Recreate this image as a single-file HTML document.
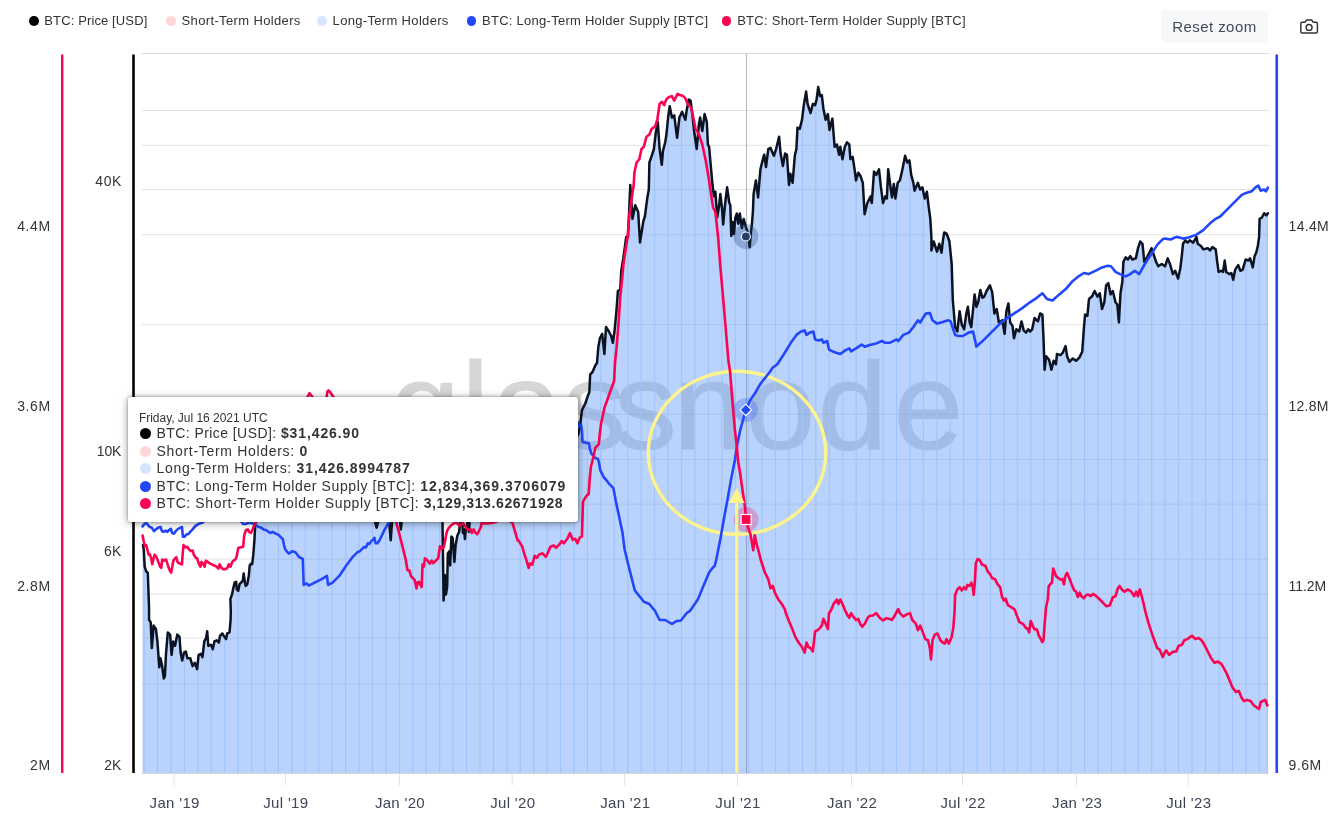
<!DOCTYPE html><html><head><meta charset="utf-8"><title>BTC Long/Short-Term Holder Supply</title>
<style>
html,body{margin:0;padding:0;background:#fff}
body{width:1335px;height:831px;position:relative;overflow:hidden;font-family:"Liberation Sans",Arial,sans-serif;color:#333}
.lg{position:absolute;top:13.2px;height:16px;line-height:16px;font-size:13px;color:#333;white-space:nowrap}
.dot{position:absolute;border-radius:50%;}
.btn{position:absolute;left:1161px;top:10.4px;width:106.5px;height:33px;background:#f7f8fa;border-radius:5px;font-size:15px;line-height:33px;color:#434959;white-space:nowrap}
.btn span{position:absolute;left:11.3px;top:-0.6px}
.tip{position:absolute;left:128px;top:397px;width:449.5px;height:125px;background:#fff;border-radius:3px;box-shadow:0 0 3px rgba(0,0,0,.32),0 1px 8px rgba(0,0,0,.38);}
.tip .hd{position:absolute;left:10.9px;top:13.7px;font-size:12px;letter-spacing:-0.02px;line-height:14px;color:#333;white-space:nowrap}
.tip .row{position:absolute;left:28.5px;font-size:14px;line-height:17px;color:#333;white-space:pre}
.tip .row b{font-weight:bold;color:#333}
.tip .dot{width:11px;height:11px;left:11.8px}

</style></head><body>
<svg width="1335" height="831" viewBox="0 0 1335 831" style="position:absolute;left:0;top:0">
<defs>
<clipPath id="cf"><path d="M142.5 773.0 L142.5 545.1 L143.0 545.1 L143.8 549.9 L144.7 566.7 L146.2 571.5 L147.8 572.7 L148.3 587.2 L149.0 606.4 L149.1 620.0 L150.7 622.2 L151.8 648.1 L153.6 625.6 L155.9 629.0 L157.5 642.5 L159.3 667.3 L160.4 658.3 L162.0 665.0 L163.8 678.5 L164.9 676.3 L166.0 653.8 L167.8 632.4 L170.1 634.6 L171.6 654.9 L173.2 641.4 L175.0 645.9 L177.3 634.6 L179.5 636.9 L180.6 652.6 L182.2 660.5 L184.0 652.6 L185.8 651.5 L187.4 658.3 L190.3 658.3 L192.6 666.1 L194.8 662.8 L197.1 669.1 L198.6 654.9 L200.9 653.8 L202.5 657.1 L204.3 641.4 L206.1 638.0 L207.2 631.3 L208.3 645.9 L211.0 644.8 L212.8 649.3 L214.4 641.4 L216.7 640.3 L218.9 642.5 L220.0 635.8 L222.3 633.5 L224.5 636.9 L226.1 639.1 L227.2 633.5 L229.5 632.4 L230.6 620.0 L230.8 611.0 L230.4 599.2 L232.0 594.4 L233.5 587.2 L234.7 582.4 L236.1 581.8 L236.8 589.6 L238.3 590.8 L239.5 584.2 L241.3 582.4 L242.8 580.6 L243.7 573.4 L244.9 582.4 L245.7 586.0 L247.3 584.2 L248.9 575.1 L249.7 565.5 L250.9 563.7 L252.1 564.3 L253.3 554.7 L254.5 539.1 L255.1 527.0 L255.7 522.8 L258.0 505.0 L262.0 490.0 L268.0 470.0 L275.0 455.0 L282.0 430.0 L286.0 440.0 L290.0 425.0 L296.0 445.0 L302.0 455.0 L310.0 450.0 L318.0 462.0 L326.0 455.0 L334.0 470.0 L340.0 465.0 L347.0 490.0 L352.0 498.0 L358.0 492.0 L364.0 505.0 L370.0 512.0 L375.0 521.6 L376.6 527.6 L378.1 521.6 L384.1 518.6 L389.2 521.6 L390.7 540.3 L392.1 521.6 L396.1 517.4 L400.1 521.6 L400.9 529.4 L401.7 521.6 L405.7 515.0 L410.5 503.0 L416.5 484.9 L422.6 475.3 L427.4 478.9 L432.2 475.3 L437.0 484.9 L440.6 503.0 L442.5 521.6 L443.6 600.4 L444.8 575.1 L446.0 594.4 L447.2 586.0 L447.8 553.5 L449.6 551.1 L450.2 565.5 L451.4 536.6 L452.6 537.9 L454.4 561.9 L455.6 545.1 L457.4 535.5 L459.2 531.8 L460.1 521.6 L462.3 521.6 L462.9 533.0 L464.1 529.4 L464.9 539.1 L465.9 528.2 L467.7 521.6 L468.9 531.8 L469.7 521.6 L475.0 510.0 L485.0 495.0 L495.0 480.0 L505.0 470.0 L515.0 472.0 L525.0 465.0 L535.0 470.0 L545.0 455.0 L555.0 462.0 L565.0 450.0 L572.0 445.0 L578.5 433.9 L580.3 424.0 L581.9 410.3 L585.3 403.5 L587.5 396.8 L589.3 392.3 L590.2 374.3 L592.5 372.0 L595.4 365.3 L597.0 363.0 L598.3 347.3 L599.9 338.3 L602.2 333.8 L604.4 354.0 L606.0 327.0 L608.9 331.5 L611.2 336.0 L612.8 342.8 L614.5 331.5 L616.4 311.3 L617.9 291.0 L620.2 289.9 L621.3 270.8 L623.1 259.5 L624.7 248.2 L626.2 237.0 L628.0 237.0 L630.3 185.0 L632.5 218.8 L635.2 205.3 L638.2 212.0 L640.0 242.4 L643.4 221.0 L644.9 216.5 L647.2 198.5 L648.8 189.5 L649.4 162.5 L651.7 155.8 L653.9 149.0 L655.7 133.3 L657.8 122.0 L659.6 149.0 L661.8 164.8 L662.9 151.3 L665.2 142.3 L666.3 135.5 L668.1 117.5 L669.7 106.3 L671.9 117.5 L674.2 115.3 L677.1 137.8 L679.4 117.5 L682.1 111.9 L685.4 119.8 L686.6 110.8 L688.8 99.5 L690.6 100.6 L692.2 113.0 L694.4 133.3 L696.7 149.0 L698.9 124.3 L700.1 117.5 L702.3 131.0 L704.6 114.1 L706.8 122.0 L707.9 144.5 L709.1 146.8 L710.9 167.0 L712.5 185.0 L714.0 196.3 L715.4 191.8 L717.2 217.2 L719.2 205.0 L720.3 194.0 L722.0 208.0 L723.2 224.4 L725.0 205.0 L727.1 187.3 L729.3 203.0 L730.3 205.0 L731.3 235.9 L732.5 222.0 L733.4 233.5 L734.0 234.0 L735.3 217.8 L736.8 213.6 L738.3 223.8 L739.8 213.6 L741.9 228.0 L743.7 219.0 L746.1 228.0 L747.3 230.5 L748.8 238.9 L749.7 247.3 L750.9 232.9 L752.1 222.0 L753.0 210.0 L753.6 194.0 L755.9 180.5 L758.1 197.4 L760.4 169.3 L762.6 160.3 L764.2 154.7 L766.0 167.0 L768.3 149.0 L770.5 147.9 L773.9 155.8 L776.1 149.0 L779.1 136.7 L780.6 153.5 L782.9 165.9 L785.1 153.5 L786.9 154.7 L789.0 185.0 L790.3 173.8 L792.6 182.8 L794.8 155.8 L796.4 149.0 L797.5 127.6 L799.8 128.8 L802.0 119.8 L803.8 105.1 L806.1 91.6 L807.6 104.0 L810.6 113.0 L812.8 104.0 L815.1 105.1 L816.6 99.5 L818.2 87.1 L820.0 96.1 L821.8 95.0 L823.4 108.5 L825.6 119.8 L827.9 114.1 L829.5 129.9 L832.4 118.6 L834.6 146.8 L836.9 144.5 L839.1 154.7 L840.3 146.8 L842.5 159.2 L844.8 146.8 L847.0 142.3 L849.3 144.5 L850.4 159.2 L852.7 156.9 L854.9 171.5 L856.0 180.5 L858.3 172.7 L860.5 176.0 L862.8 182.8 L864.6 214.3 L867.3 203.0 L870.7 196.3 L871.8 203.0 L874.0 171.5 L876.3 174.9 L879.0 169.3 L880.8 186.2 L883.0 203.0 L885.3 196.3 L886.9 198.5 L888.2 169.3 L890.2 185.0 L892.0 197.4 L893.8 183.9 L895.4 198.5 L897.7 182.8 L899.9 180.5 L902.2 170.4 L905.1 155.8 L907.3 162.5 L909.4 160.3 L911.2 174.9 L913.4 182.8 L914.5 190.7 L917.9 182.8 L920.2 189.5 L922.4 187.3 L924.7 198.5 L926.9 191.8 L928.5 205.3 L930.3 218.8 L931.4 237.0 L931.4 250.5 L933.7 241.5 L937.0 251.6 L939.3 243.8 L941.5 252.8 L943.1 239.2 L944.2 232.5 L946.5 233.6 L947.9 237.0 L949.4 241.5 L951.7 264.0 L952.8 300.0 L955.1 327.0 L957.3 331.5 L959.6 311.3 L961.8 324.8 L964.1 329.3 L966.3 313.5 L967.9 306.8 L969.7 322.5 L971.3 327.0 L973.1 309.0 L974.6 294.4 L976.4 306.8 L978.2 302.3 L980.3 289.9 L982.5 297.8 L984.3 296.6 L986.6 291.0 L989.9 285.4 L992.2 292.1 L994.4 313.5 L996.7 309.0 L998.9 322.5 L1002.3 320.3 L1004.6 333.8 L1006.4 311.3 L1008.4 303.4 L1010.2 322.5 L1012.5 325.9 L1014.0 338.3 L1016.3 329.3 L1019.2 331.5 L1021.5 321.4 L1023.7 330.4 L1026.0 332.6 L1028.2 329.3 L1030.0 331.5 L1032.2 329.3 L1034.5 318.0 L1037.9 321.4 L1040.1 313.5 L1042.4 314.6 L1043.5 338.3 L1044.6 369.8 L1046.2 356.3 L1049.1 359.7 L1051.4 369.8 L1053.6 360.8 L1055.9 364.2 L1057.0 354.0 L1060.4 355.1 L1062.6 352.9 L1065.6 346.1 L1067.1 356.3 L1069.4 361.9 L1072.8 358.5 L1076.1 360.8 L1079.5 357.4 L1082.2 351.8 L1084.0 327.0 L1085.1 314.6 L1087.4 315.8 L1089.0 298.9 L1091.9 296.6 L1094.6 291.0 L1097.5 296.6 L1099.8 293.3 L1102.0 309.0 L1104.3 302.3 L1106.1 285.4 L1108.3 283.1 L1110.6 294.4 L1112.8 291.0 L1115.5 302.3 L1117.3 304.5 L1118.9 322.5 L1120.5 293.3 L1122.3 282.0 L1123.4 261.8 L1125.7 257.3 L1127.9 259.5 L1130.2 256.1 L1132.4 259.5 L1135.8 258.4 L1138.0 248.2 L1140.3 241.5 L1142.5 243.8 L1144.3 261.8 L1147.0 257.3 L1149.3 252.8 L1151.5 248.2 L1153.8 255.0 L1156.0 261.8 L1158.3 266.3 L1161.7 264.0 L1165.0 266.3 L1167.7 258.4 L1170.0 264.0 L1172.9 274.1 L1175.2 270.8 L1178.1 278.6 L1180.3 268.5 L1181.9 255.0 L1183.0 243.8 L1185.3 240.4 L1187.5 242.6 L1189.8 240.4 L1193.2 242.6 L1196.5 237.0 L1197.7 243.8 L1201.0 246.0 L1203.3 249.4 L1207.8 248.2 L1210.0 250.5 L1212.3 247.1 L1215.7 249.4 L1217.2 261.8 L1218.6 271.9 L1221.3 270.8 L1223.1 271.9 L1224.7 260.6 L1226.2 271.9 L1229.2 274.1 L1231.4 273.0 L1233.2 279.8 L1235.2 269.6 L1238.2 265.1 L1240.4 270.8 L1242.7 269.6 L1245.6 259.5 L1248.3 260.6 L1250.1 258.4 L1252.8 267.4 L1254.6 256.1 L1256.2 252.8 L1257.8 246.0 L1259.1 237.0 L1259.6 218.8 L1261.8 217.7 L1264.1 213.2 L1266.3 215.4 L1267.9 213.2 L1267.8 213.2 L1267.8 773.0 Z"/></clipPath>
<clipPath id="cp"><rect x="141" y="50" width="1128" height="724"/></clipPath>
<filter id="sh" x="-10%" y="-20%" width="120%" height="140%"><feGaussianBlur stdDeviation="3"/></filter>
</defs>
<path d="M141.5 53.5H1269" stroke="#dbdbdb" stroke-width="1.2" fill="none"/>
<path d="M141.5 110.5H1269 M141.5 145.3H1269 M141.5 189.5H1269 M141.5 234.7H1269 M141.5 324.6H1269 M141.5 414.2H1269 M141.5 459.6H1269 M141.5 504.1H1269 M141.5 559.1H1269 M141.5 594.0H1269 M141.5 638.1H1269 M141.5 684.0H1269" stroke="#e4e4e4" stroke-width="1" fill="none"/>
<path d="M141.5 773.5H1269" stroke="#d6d6d6" stroke-width="1" fill="none"/>
<text y="449.3" text-anchor="middle" font-family="'Liberation Sans', Arial, sans-serif" font-size="125" fill="#000" stroke="#000" stroke-width="1.2" opacity="0.155"><tspan x="425">g</tspan><tspan x="475.4">l</tspan><tspan x="527">a</tspan><tspan x="594.5">s</tspan><tspan x="645.5">s</tspan><tspan x="708.5">n</tspan><tspan x="780.5">o</tspan><tspan x="852.5">d</tspan><tspan x="928.5">e</tspan></text>
<path d="M142.5 773.0 L142.5 545.1 L143.0 545.1 L143.8 549.9 L144.7 566.7 L146.2 571.5 L147.8 572.7 L148.3 587.2 L149.0 606.4 L149.1 620.0 L150.7 622.2 L151.8 648.1 L153.6 625.6 L155.9 629.0 L157.5 642.5 L159.3 667.3 L160.4 658.3 L162.0 665.0 L163.8 678.5 L164.9 676.3 L166.0 653.8 L167.8 632.4 L170.1 634.6 L171.6 654.9 L173.2 641.4 L175.0 645.9 L177.3 634.6 L179.5 636.9 L180.6 652.6 L182.2 660.5 L184.0 652.6 L185.8 651.5 L187.4 658.3 L190.3 658.3 L192.6 666.1 L194.8 662.8 L197.1 669.1 L198.6 654.9 L200.9 653.8 L202.5 657.1 L204.3 641.4 L206.1 638.0 L207.2 631.3 L208.3 645.9 L211.0 644.8 L212.8 649.3 L214.4 641.4 L216.7 640.3 L218.9 642.5 L220.0 635.8 L222.3 633.5 L224.5 636.9 L226.1 639.1 L227.2 633.5 L229.5 632.4 L230.6 620.0 L230.8 611.0 L230.4 599.2 L232.0 594.4 L233.5 587.2 L234.7 582.4 L236.1 581.8 L236.8 589.6 L238.3 590.8 L239.5 584.2 L241.3 582.4 L242.8 580.6 L243.7 573.4 L244.9 582.4 L245.7 586.0 L247.3 584.2 L248.9 575.1 L249.7 565.5 L250.9 563.7 L252.1 564.3 L253.3 554.7 L254.5 539.1 L255.1 527.0 L255.7 522.8 L258.0 505.0 L262.0 490.0 L268.0 470.0 L275.0 455.0 L282.0 430.0 L286.0 440.0 L290.0 425.0 L296.0 445.0 L302.0 455.0 L310.0 450.0 L318.0 462.0 L326.0 455.0 L334.0 470.0 L340.0 465.0 L347.0 490.0 L352.0 498.0 L358.0 492.0 L364.0 505.0 L370.0 512.0 L375.0 521.6 L376.6 527.6 L378.1 521.6 L384.1 518.6 L389.2 521.6 L390.7 540.3 L392.1 521.6 L396.1 517.4 L400.1 521.6 L400.9 529.4 L401.7 521.6 L405.7 515.0 L410.5 503.0 L416.5 484.9 L422.6 475.3 L427.4 478.9 L432.2 475.3 L437.0 484.9 L440.6 503.0 L442.5 521.6 L443.6 600.4 L444.8 575.1 L446.0 594.4 L447.2 586.0 L447.8 553.5 L449.6 551.1 L450.2 565.5 L451.4 536.6 L452.6 537.9 L454.4 561.9 L455.6 545.1 L457.4 535.5 L459.2 531.8 L460.1 521.6 L462.3 521.6 L462.9 533.0 L464.1 529.4 L464.9 539.1 L465.9 528.2 L467.7 521.6 L468.9 531.8 L469.7 521.6 L475.0 510.0 L485.0 495.0 L495.0 480.0 L505.0 470.0 L515.0 472.0 L525.0 465.0 L535.0 470.0 L545.0 455.0 L555.0 462.0 L565.0 450.0 L572.0 445.0 L578.5 433.9 L580.3 424.0 L581.9 410.3 L585.3 403.5 L587.5 396.8 L589.3 392.3 L590.2 374.3 L592.5 372.0 L595.4 365.3 L597.0 363.0 L598.3 347.3 L599.9 338.3 L602.2 333.8 L604.4 354.0 L606.0 327.0 L608.9 331.5 L611.2 336.0 L612.8 342.8 L614.5 331.5 L616.4 311.3 L617.9 291.0 L620.2 289.9 L621.3 270.8 L623.1 259.5 L624.7 248.2 L626.2 237.0 L628.0 237.0 L630.3 185.0 L632.5 218.8 L635.2 205.3 L638.2 212.0 L640.0 242.4 L643.4 221.0 L644.9 216.5 L647.2 198.5 L648.8 189.5 L649.4 162.5 L651.7 155.8 L653.9 149.0 L655.7 133.3 L657.8 122.0 L659.6 149.0 L661.8 164.8 L662.9 151.3 L665.2 142.3 L666.3 135.5 L668.1 117.5 L669.7 106.3 L671.9 117.5 L674.2 115.3 L677.1 137.8 L679.4 117.5 L682.1 111.9 L685.4 119.8 L686.6 110.8 L688.8 99.5 L690.6 100.6 L692.2 113.0 L694.4 133.3 L696.7 149.0 L698.9 124.3 L700.1 117.5 L702.3 131.0 L704.6 114.1 L706.8 122.0 L707.9 144.5 L709.1 146.8 L710.9 167.0 L712.5 185.0 L714.0 196.3 L715.4 191.8 L717.2 217.2 L719.2 205.0 L720.3 194.0 L722.0 208.0 L723.2 224.4 L725.0 205.0 L727.1 187.3 L729.3 203.0 L730.3 205.0 L731.3 235.9 L732.5 222.0 L733.4 233.5 L734.0 234.0 L735.3 217.8 L736.8 213.6 L738.3 223.8 L739.8 213.6 L741.9 228.0 L743.7 219.0 L746.1 228.0 L747.3 230.5 L748.8 238.9 L749.7 247.3 L750.9 232.9 L752.1 222.0 L753.0 210.0 L753.6 194.0 L755.9 180.5 L758.1 197.4 L760.4 169.3 L762.6 160.3 L764.2 154.7 L766.0 167.0 L768.3 149.0 L770.5 147.9 L773.9 155.8 L776.1 149.0 L779.1 136.7 L780.6 153.5 L782.9 165.9 L785.1 153.5 L786.9 154.7 L789.0 185.0 L790.3 173.8 L792.6 182.8 L794.8 155.8 L796.4 149.0 L797.5 127.6 L799.8 128.8 L802.0 119.8 L803.8 105.1 L806.1 91.6 L807.6 104.0 L810.6 113.0 L812.8 104.0 L815.1 105.1 L816.6 99.5 L818.2 87.1 L820.0 96.1 L821.8 95.0 L823.4 108.5 L825.6 119.8 L827.9 114.1 L829.5 129.9 L832.4 118.6 L834.6 146.8 L836.9 144.5 L839.1 154.7 L840.3 146.8 L842.5 159.2 L844.8 146.8 L847.0 142.3 L849.3 144.5 L850.4 159.2 L852.7 156.9 L854.9 171.5 L856.0 180.5 L858.3 172.7 L860.5 176.0 L862.8 182.8 L864.6 214.3 L867.3 203.0 L870.7 196.3 L871.8 203.0 L874.0 171.5 L876.3 174.9 L879.0 169.3 L880.8 186.2 L883.0 203.0 L885.3 196.3 L886.9 198.5 L888.2 169.3 L890.2 185.0 L892.0 197.4 L893.8 183.9 L895.4 198.5 L897.7 182.8 L899.9 180.5 L902.2 170.4 L905.1 155.8 L907.3 162.5 L909.4 160.3 L911.2 174.9 L913.4 182.8 L914.5 190.7 L917.9 182.8 L920.2 189.5 L922.4 187.3 L924.7 198.5 L926.9 191.8 L928.5 205.3 L930.3 218.8 L931.4 237.0 L931.4 250.5 L933.7 241.5 L937.0 251.6 L939.3 243.8 L941.5 252.8 L943.1 239.2 L944.2 232.5 L946.5 233.6 L947.9 237.0 L949.4 241.5 L951.7 264.0 L952.8 300.0 L955.1 327.0 L957.3 331.5 L959.6 311.3 L961.8 324.8 L964.1 329.3 L966.3 313.5 L967.9 306.8 L969.7 322.5 L971.3 327.0 L973.1 309.0 L974.6 294.4 L976.4 306.8 L978.2 302.3 L980.3 289.9 L982.5 297.8 L984.3 296.6 L986.6 291.0 L989.9 285.4 L992.2 292.1 L994.4 313.5 L996.7 309.0 L998.9 322.5 L1002.3 320.3 L1004.6 333.8 L1006.4 311.3 L1008.4 303.4 L1010.2 322.5 L1012.5 325.9 L1014.0 338.3 L1016.3 329.3 L1019.2 331.5 L1021.5 321.4 L1023.7 330.4 L1026.0 332.6 L1028.2 329.3 L1030.0 331.5 L1032.2 329.3 L1034.5 318.0 L1037.9 321.4 L1040.1 313.5 L1042.4 314.6 L1043.5 338.3 L1044.6 369.8 L1046.2 356.3 L1049.1 359.7 L1051.4 369.8 L1053.6 360.8 L1055.9 364.2 L1057.0 354.0 L1060.4 355.1 L1062.6 352.9 L1065.6 346.1 L1067.1 356.3 L1069.4 361.9 L1072.8 358.5 L1076.1 360.8 L1079.5 357.4 L1082.2 351.8 L1084.0 327.0 L1085.1 314.6 L1087.4 315.8 L1089.0 298.9 L1091.9 296.6 L1094.6 291.0 L1097.5 296.6 L1099.8 293.3 L1102.0 309.0 L1104.3 302.3 L1106.1 285.4 L1108.3 283.1 L1110.6 294.4 L1112.8 291.0 L1115.5 302.3 L1117.3 304.5 L1118.9 322.5 L1120.5 293.3 L1122.3 282.0 L1123.4 261.8 L1125.7 257.3 L1127.9 259.5 L1130.2 256.1 L1132.4 259.5 L1135.8 258.4 L1138.0 248.2 L1140.3 241.5 L1142.5 243.8 L1144.3 261.8 L1147.0 257.3 L1149.3 252.8 L1151.5 248.2 L1153.8 255.0 L1156.0 261.8 L1158.3 266.3 L1161.7 264.0 L1165.0 266.3 L1167.7 258.4 L1170.0 264.0 L1172.9 274.1 L1175.2 270.8 L1178.1 278.6 L1180.3 268.5 L1181.9 255.0 L1183.0 243.8 L1185.3 240.4 L1187.5 242.6 L1189.8 240.4 L1193.2 242.6 L1196.5 237.0 L1197.7 243.8 L1201.0 246.0 L1203.3 249.4 L1207.8 248.2 L1210.0 250.5 L1212.3 247.1 L1215.7 249.4 L1217.2 261.8 L1218.6 271.9 L1221.3 270.8 L1223.1 271.9 L1224.7 260.6 L1226.2 271.9 L1229.2 274.1 L1231.4 273.0 L1233.2 279.8 L1235.2 269.6 L1238.2 265.1 L1240.4 270.8 L1242.7 269.6 L1245.6 259.5 L1248.3 260.6 L1250.1 258.4 L1252.8 267.4 L1254.6 256.1 L1256.2 252.8 L1257.8 246.0 L1259.1 237.0 L1259.6 218.8 L1261.8 217.7 L1264.1 213.2 L1266.3 215.4 L1267.9 213.2 L1267.8 213.2 L1267.8 773.0 Z" fill="rgb(99,157,248)" fill-opacity="0.45"/>
<g clip-path="url(#cf)"><path d="M144.06 50V775 M157.50 50V775 M170.94 50V775 M184.37 50V775 M197.81 50V775 M211.24 50V775 M224.68 50V775 M238.12 50V775 M251.55 50V775 M264.99 50V775 M278.42 50V775 M291.86 50V775 M305.30 50V775 M318.73 50V775 M332.17 50V775 M345.60 50V775 M359.04 50V775 M372.48 50V775 M385.91 50V775 M399.35 50V775 M412.78 50V775 M426.22 50V775 M439.66 50V775 M453.09 50V775 M466.53 50V775 M479.96 50V775 M493.40 50V775 M506.84 50V775 M520.27 50V775 M533.71 50V775 M547.14 50V775 M560.58 50V775 M574.02 50V775 M587.45 50V775 M600.89 50V775 M614.32 50V775 M627.76 50V775 M641.20 50V775 M654.63 50V775 M668.07 50V775 M681.50 50V775 M694.94 50V775 M708.38 50V775 M721.81 50V775 M735.25 50V775 M748.68 50V775 M762.12 50V775 M775.56 50V775 M788.99 50V775 M802.43 50V775 M815.86 50V775 M829.30 50V775 M842.74 50V775 M856.17 50V775 M869.61 50V775 M883.04 50V775 M896.48 50V775 M909.92 50V775 M923.35 50V775 M936.79 50V775 M950.22 50V775 M963.66 50V775 M977.10 50V775 M990.53 50V775 M1003.97 50V775 M1017.40 50V775 M1030.84 50V775 M1044.28 50V775 M1057.71 50V775 M1071.15 50V775 M1084.58 50V775 M1098.02 50V775 M1111.46 50V775 M1124.89 50V775 M1138.33 50V775 M1151.76 50V775 M1165.20 50V775 M1178.64 50V775 M1192.07 50V775 M1205.51 50V775 M1218.94 50V775 M1232.38 50V775 M1245.82 50V775 M1259.25 50V775" stroke="#9fc3fb" stroke-width="1.1" fill="none"/></g>
<path d="M174.1 773.5V785.5 M285.3 773.5V785.5 M399.4 773.5V785.5 M512.2 773.5V785.5 M624.7 773.5V785.5 M737.4 773.5V785.5 M851.5 773.5V785.5 M962.5 773.5V785.5 M1076.6 773.5V785.5 M1188.2 773.5V785.5" stroke="#e2e2e2" stroke-width="1" fill="none"/>
<path d="M746.5 54V773" stroke="#707684" stroke-opacity="0.5" stroke-width="1.1" fill="none"/>
<ellipse cx="737" cy="452.8" rx="88.7" ry="81.5" fill="none" stroke="#fdf48c" stroke-width="3.4"/>
<g clip-path="url(#cp)" fill="none" stroke-linejoin="round" stroke-linecap="round">
<path d="M1267.4 214V773" stroke="#ff5078" stroke-opacity="0.3" stroke-width="1"/>
<path d="M143.0 545.1 L143.8 549.9 L144.7 566.7 L146.2 571.5 L147.8 572.7 L148.3 587.2 L149.0 606.4 L149.1 620.0 L150.7 622.2 L151.8 648.1 L153.6 625.6 L155.9 629.0 L157.5 642.5 L159.3 667.3 L160.4 658.3 L162.0 665.0 L163.8 678.5 L164.9 676.3 L166.0 653.8 L167.8 632.4 L170.1 634.6 L171.6 654.9 L173.2 641.4 L175.0 645.9 L177.3 634.6 L179.5 636.9 L180.6 652.6 L182.2 660.5 L184.0 652.6 L185.8 651.5 L187.4 658.3 L190.3 658.3 L192.6 666.1 L194.8 662.8 L197.1 669.1 L198.6 654.9 L200.9 653.8 L202.5 657.1 L204.3 641.4 L206.1 638.0 L207.2 631.3 L208.3 645.9 L211.0 644.8 L212.8 649.3 L214.4 641.4 L216.7 640.3 L218.9 642.5 L220.0 635.8 L222.3 633.5 L224.5 636.9 L226.1 639.1 L227.2 633.5 L229.5 632.4 L230.6 620.0 L230.8 611.0 L230.4 599.2 L232.0 594.4 L233.5 587.2 L234.7 582.4 L236.1 581.8 L236.8 589.6 L238.3 590.8 L239.5 584.2 L241.3 582.4 L242.8 580.6 L243.7 573.4 L244.9 582.4 L245.7 586.0 L247.3 584.2 L248.9 575.1 L249.7 565.5 L250.9 563.7 L252.1 564.3 L253.3 554.7 L254.5 539.1 L255.1 527.0 L255.7 522.8 L258.0 505.0 L262.0 490.0 L268.0 470.0 L275.0 455.0 L282.0 430.0 L286.0 440.0 L290.0 425.0 L296.0 445.0 L302.0 455.0 L310.0 450.0 L318.0 462.0 L326.0 455.0 L334.0 470.0 L340.0 465.0 L347.0 490.0 L352.0 498.0 L358.0 492.0 L364.0 505.0 L370.0 512.0 L375.0 521.6 L376.6 527.6 L378.1 521.6 L384.1 518.6 L389.2 521.6 L390.7 540.3 L392.1 521.6 L396.1 517.4 L400.1 521.6 L400.9 529.4 L401.7 521.6 L405.7 515.0 L410.5 503.0 L416.5 484.9 L422.6 475.3 L427.4 478.9 L432.2 475.3 L437.0 484.9 L440.6 503.0 L442.5 521.6 L443.6 600.4 L444.8 575.1 L446.0 594.4 L447.2 586.0 L447.8 553.5 L449.6 551.1 L450.2 565.5 L451.4 536.6 L452.6 537.9 L454.4 561.9 L455.6 545.1 L457.4 535.5 L459.2 531.8 L460.1 521.6 L462.3 521.6 L462.9 533.0 L464.1 529.4 L464.9 539.1 L465.9 528.2 L467.7 521.6 L468.9 531.8 L469.7 521.6 L475.0 510.0 L485.0 495.0 L495.0 480.0 L505.0 470.0 L515.0 472.0 L525.0 465.0 L535.0 470.0 L545.0 455.0 L555.0 462.0 L565.0 450.0 L572.0 445.0 L578.5 433.9 L580.3 424.0 L581.9 410.3 L585.3 403.5 L587.5 396.8 L589.3 392.3 L590.2 374.3 L592.5 372.0 L595.4 365.3 L597.0 363.0 L598.3 347.3 L599.9 338.3 L602.2 333.8 L604.4 354.0 L606.0 327.0 L608.9 331.5 L611.2 336.0 L612.8 342.8 L614.5 331.5 L616.4 311.3 L617.9 291.0 L620.2 289.9 L621.3 270.8 L623.1 259.5 L624.7 248.2 L626.2 237.0 L628.0 237.0 L630.3 185.0 L632.5 218.8 L635.2 205.3 L638.2 212.0 L640.0 242.4 L643.4 221.0 L644.9 216.5 L647.2 198.5 L648.8 189.5 L649.4 162.5 L651.7 155.8 L653.9 149.0 L655.7 133.3 L657.8 122.0 L659.6 149.0 L661.8 164.8 L662.9 151.3 L665.2 142.3 L666.3 135.5 L668.1 117.5 L669.7 106.3 L671.9 117.5 L674.2 115.3 L677.1 137.8 L679.4 117.5 L682.1 111.9 L685.4 119.8 L686.6 110.8 L688.8 99.5 L690.6 100.6 L692.2 113.0 L694.4 133.3 L696.7 149.0 L698.9 124.3 L700.1 117.5 L702.3 131.0 L704.6 114.1 L706.8 122.0 L707.9 144.5 L709.1 146.8 L710.9 167.0 L712.5 185.0 L714.0 196.3 L715.4 191.8 L717.2 217.2 L719.2 205.0 L720.3 194.0 L722.0 208.0 L723.2 224.4 L725.0 205.0 L727.1 187.3 L729.3 203.0 L730.3 205.0 L731.3 235.9 L732.5 222.0 L733.4 233.5 L734.0 234.0 L735.3 217.8 L736.8 213.6 L738.3 223.8 L739.8 213.6 L741.9 228.0 L743.7 219.0 L746.1 228.0 L747.3 230.5 L748.8 238.9 L749.7 247.3 L750.9 232.9 L752.1 222.0 L753.0 210.0 L753.6 194.0 L755.9 180.5 L758.1 197.4 L760.4 169.3 L762.6 160.3 L764.2 154.7 L766.0 167.0 L768.3 149.0 L770.5 147.9 L773.9 155.8 L776.1 149.0 L779.1 136.7 L780.6 153.5 L782.9 165.9 L785.1 153.5 L786.9 154.7 L789.0 185.0 L790.3 173.8 L792.6 182.8 L794.8 155.8 L796.4 149.0 L797.5 127.6 L799.8 128.8 L802.0 119.8 L803.8 105.1 L806.1 91.6 L807.6 104.0 L810.6 113.0 L812.8 104.0 L815.1 105.1 L816.6 99.5 L818.2 87.1 L820.0 96.1 L821.8 95.0 L823.4 108.5 L825.6 119.8 L827.9 114.1 L829.5 129.9 L832.4 118.6 L834.6 146.8 L836.9 144.5 L839.1 154.7 L840.3 146.8 L842.5 159.2 L844.8 146.8 L847.0 142.3 L849.3 144.5 L850.4 159.2 L852.7 156.9 L854.9 171.5 L856.0 180.5 L858.3 172.7 L860.5 176.0 L862.8 182.8 L864.6 214.3 L867.3 203.0 L870.7 196.3 L871.8 203.0 L874.0 171.5 L876.3 174.9 L879.0 169.3 L880.8 186.2 L883.0 203.0 L885.3 196.3 L886.9 198.5 L888.2 169.3 L890.2 185.0 L892.0 197.4 L893.8 183.9 L895.4 198.5 L897.7 182.8 L899.9 180.5 L902.2 170.4 L905.1 155.8 L907.3 162.5 L909.4 160.3 L911.2 174.9 L913.4 182.8 L914.5 190.7 L917.9 182.8 L920.2 189.5 L922.4 187.3 L924.7 198.5 L926.9 191.8 L928.5 205.3 L930.3 218.8 L931.4 237.0 L931.4 250.5 L933.7 241.5 L937.0 251.6 L939.3 243.8 L941.5 252.8 L943.1 239.2 L944.2 232.5 L946.5 233.6 L947.9 237.0 L949.4 241.5 L951.7 264.0 L952.8 300.0 L955.1 327.0 L957.3 331.5 L959.6 311.3 L961.8 324.8 L964.1 329.3 L966.3 313.5 L967.9 306.8 L969.7 322.5 L971.3 327.0 L973.1 309.0 L974.6 294.4 L976.4 306.8 L978.2 302.3 L980.3 289.9 L982.5 297.8 L984.3 296.6 L986.6 291.0 L989.9 285.4 L992.2 292.1 L994.4 313.5 L996.7 309.0 L998.9 322.5 L1002.3 320.3 L1004.6 333.8 L1006.4 311.3 L1008.4 303.4 L1010.2 322.5 L1012.5 325.9 L1014.0 338.3 L1016.3 329.3 L1019.2 331.5 L1021.5 321.4 L1023.7 330.4 L1026.0 332.6 L1028.2 329.3 L1030.0 331.5 L1032.2 329.3 L1034.5 318.0 L1037.9 321.4 L1040.1 313.5 L1042.4 314.6 L1043.5 338.3 L1044.6 369.8 L1046.2 356.3 L1049.1 359.7 L1051.4 369.8 L1053.6 360.8 L1055.9 364.2 L1057.0 354.0 L1060.4 355.1 L1062.6 352.9 L1065.6 346.1 L1067.1 356.3 L1069.4 361.9 L1072.8 358.5 L1076.1 360.8 L1079.5 357.4 L1082.2 351.8 L1084.0 327.0 L1085.1 314.6 L1087.4 315.8 L1089.0 298.9 L1091.9 296.6 L1094.6 291.0 L1097.5 296.6 L1099.8 293.3 L1102.0 309.0 L1104.3 302.3 L1106.1 285.4 L1108.3 283.1 L1110.6 294.4 L1112.8 291.0 L1115.5 302.3 L1117.3 304.5 L1118.9 322.5 L1120.5 293.3 L1122.3 282.0 L1123.4 261.8 L1125.7 257.3 L1127.9 259.5 L1130.2 256.1 L1132.4 259.5 L1135.8 258.4 L1138.0 248.2 L1140.3 241.5 L1142.5 243.8 L1144.3 261.8 L1147.0 257.3 L1149.3 252.8 L1151.5 248.2 L1153.8 255.0 L1156.0 261.8 L1158.3 266.3 L1161.7 264.0 L1165.0 266.3 L1167.7 258.4 L1170.0 264.0 L1172.9 274.1 L1175.2 270.8 L1178.1 278.6 L1180.3 268.5 L1181.9 255.0 L1183.0 243.8 L1185.3 240.4 L1187.5 242.6 L1189.8 240.4 L1193.2 242.6 L1196.5 237.0 L1197.7 243.8 L1201.0 246.0 L1203.3 249.4 L1207.8 248.2 L1210.0 250.5 L1212.3 247.1 L1215.7 249.4 L1217.2 261.8 L1218.6 271.9 L1221.3 270.8 L1223.1 271.9 L1224.7 260.6 L1226.2 271.9 L1229.2 274.1 L1231.4 273.0 L1233.2 279.8 L1235.2 269.6 L1238.2 265.1 L1240.4 270.8 L1242.7 269.6 L1245.6 259.5 L1248.3 260.6 L1250.1 258.4 L1252.8 267.4 L1254.6 256.1 L1256.2 252.8 L1257.8 246.0 L1259.1 237.0 L1259.6 218.8 L1261.8 217.7 L1264.1 213.2 L1266.3 215.4 L1267.9 213.2" stroke="#0b1322" stroke-width="2.5"/>
<path d="M142.6 526.4 L144.4 524.0 L146.2 522.8 L148.1 525.2 L149.8 527.0 L151.7 527.6 L154.1 531.2 L155.9 529.4 L158.3 527.6 L160.7 527.0 L161.9 531.2 L163.7 531.8 L165.5 530.6 L167.3 531.8 L169.1 530.0 L170.9 528.8 L172.1 533.0 L173.9 533.6 L175.7 531.2 L178.1 528.8 L180.5 527.6 L182.0 527.0 L182.9 536.6 L184.7 536.6 L186.5 534.2 L188.3 534.2 L190.2 531.8 L192.6 529.4 L195.0 526.4 L197.4 524.6 L199.8 523.4 L202.2 522.8 L207.0 518.6 L214.2 509.0 L226.2 509.0 L238.3 517.4 L243.1 524.0 L245.5 524.0 L249.1 522.8 L252.7 523.4 L256.3 525.2 L258.7 527.0 L261.1 527.6 L263.5 529.4 L265.9 530.0 L268.4 531.8 L270.1 533.0 L272.6 531.8 L275.6 533.6 L278.6 534.9 L281.0 537.3 L282.8 539.1 L284.0 545.1 L285.2 549.3 L287.0 551.7 L288.8 553.5 L290.0 552.9 L292.0 551.2 L295.4 552.3 L298.8 556.8 L302.8 559.0 L303.7 584.9 L306.7 583.3 L308.9 585.6 L314.6 582.7 L321.3 579.3 L326.9 575.9 L328.1 584.9 L332.6 582.7 L339.3 575.9 L346.1 565.8 L352.8 556.8 L357.3 552.3 L360.0 551.1 L362.4 548.7 L364.2 546.9 L366.0 547.5 L367.8 543.3 L369.6 543.9 L371.4 540.9 L372.6 540.3 L374.4 537.9 L375.6 543.3 L377.4 543.3 L379.2 540.9 L381.6 536.0 L384.1 530.6 L386.5 526.4 L388.9 522.8 L400.0 505.0 L440.0 485.0 L480.0 470.0 L520.0 455.0 L560.0 435.0 L578.0 422.1 L578.6 426.3 L581.1 425.1 L581.9 430.5 L582.5 442.0 L585.3 442.6 L588.9 443.2 L589.8 448.6 L591.3 453.4 L593.1 455.8 L595.5 458.2 L597.9 458.8 L599.1 463.0 L600.3 470.2 L602.1 473.9 L603.9 477.5 L606.3 480.0 L608.9 483.6 L613.4 488.1 L615.7 500.5 L619.0 516.3 L622.4 532.0 L624.7 550.0 L628.0 563.5 L631.4 577.0 L634.8 590.5 L640.4 597.3 L643.8 601.8 L649.4 604.0 L655.1 611.0 L659.6 620.0 L665.2 620.0 L671.9 624.0 L676.4 621.1 L680.9 620.5 L686.6 613.2 L689.9 611.0 L697.8 599.5 L703.4 586.0 L709.1 572.5 L712.5 568.0 L714.7 565.8 L716.2 560.0 L720.5 538.2 L724.1 517.8 L727.7 498.5 L731.3 478.0 L734.9 460.0 L737.3 444.2 L740.3 429.8 L743.3 419.0 L745.7 409.9 L750.5 399.7 L755.4 392.5 L760.2 384.1 L765.0 378.0 L769.8 372.0 L772.8 367.5 L777.3 364.2 L784.0 354.0 L790.8 342.8 L796.4 334.9 L800.9 331.5 L804.7 330.4 L806.5 334.9 L809.9 332.6 L813.3 331.5 L815.1 339.4 L818.9 340.5 L821.8 339.4 L823.4 342.8 L827.2 341.0 L829.0 349.5 L833.5 351.8 L836.9 352.9 L840.3 354.0 L844.8 350.6 L849.3 348.4 L851.1 351.3 L856.0 348.4 L861.7 344.6 L865.0 346.8 L869.5 345.0 L876.3 343.4 L881.9 341.0 L885.3 342.8 L889.8 342.8 L896.5 339.4 L898.3 341.0 L903.3 334.9 L908.9 332.6 L913.4 327.0 L917.9 320.3 L920.2 322.5 L925.8 313.5 L929.9 313.1 L932.5 320.3 L937.0 323.6 L942.7 322.1 L948.3 320.3 L950.6 321.4 L955.1 334.9 L958.4 336.0 L962.9 336.0 L968.6 332.6 L973.1 331.5 L976.4 346.6 L982.1 341.6 L988.8 334.9 L995.6 328.1 L1002.3 321.4 L1009.1 316.9 L1015.8 312.4 L1022.6 307.9 L1030.0 302.3 L1036.8 297.8 L1042.4 293.3 L1046.9 298.9 L1052.5 300.5 L1059.3 294.4 L1066.0 288.8 L1072.8 280.9 L1078.4 276.4 L1084.0 273.0 L1088.5 274.1 L1095.3 270.8 L1102.0 267.4 L1107.6 265.8 L1111.0 266.3 L1115.5 271.9 L1120.0 274.1 L1125.7 276.4 L1130.2 274.1 L1134.7 270.8 L1139.2 274.1 L1144.8 264.0 L1151.5 253.9 L1157.2 244.9 L1162.8 239.2 L1165.0 238.6 L1170.7 239.5 L1176.3 236.8 L1183.0 238.6 L1188.7 237.5 L1196.5 234.6 L1203.3 230.1 L1210.0 223.3 L1215.7 218.8 L1220.2 216.5 L1225.8 210.9 L1232.5 204.2 L1237.0 199.7 L1241.5 195.2 L1246.0 192.9 L1251.7 191.3 L1255.1 187.7 L1258.4 185.7 L1260.7 190.7 L1264.1 189.5 L1265.9 191.3 L1267.9 187.7" stroke="#2246fa" stroke-width="2.6"/>
<path d="M142.6 535.5 L143.8 541.5 L145.0 546.3 L146.2 545.1 L147.4 549.9 L148.7 554.7 L149.8 554.1 L151.1 558.3 L152.3 564.3 L153.5 558.3 L154.7 554.7 L156.5 557.1 L158.3 561.9 L160.1 566.7 L161.3 567.9 L162.2 559.5 L163.7 560.7 L164.9 560.1 L166.1 559.5 L167.9 565.5 L169.7 570.3 L171.1 572.7 L172.3 566.7 L173.3 560.7 L175.1 558.3 L176.3 557.1 L177.5 561.9 L178.7 563.1 L180.5 563.7 L182.0 564.3 L182.7 553.5 L183.5 545.1 L184.7 546.3 L185.9 547.5 L187.5 546.9 L188.9 549.3 L190.8 551.1 L192.6 550.5 L193.8 554.7 L195.6 557.7 L197.1 558.3 L198.6 563.1 L200.4 566.7 L201.6 561.9 L202.8 563.1 L204.6 566.7 L205.8 560.7 L207.6 561.9 L209.4 563.1 L211.8 564.3 L214.2 565.5 L216.6 566.7 L218.4 568.5 L219.6 564.3 L221.4 567.9 L223.2 569.1 L225.6 569.1 L227.4 567.9 L228.7 564.3 L230.4 566.7 L232.3 561.9 L233.5 560.7 L235.3 559.5 L236.5 557.1 L237.7 551.1 L238.3 548.1 L240.1 547.5 L241.9 546.9 L243.1 546.9 L244.1 536.6 L244.9 533.0 L246.1 530.0 L247.9 529.4 L249.1 531.8 L250.9 533.0 L252.7 529.4 L254.5 524.6 L255.7 522.8 L262.0 505.0 L270.0 480.0 L280.0 455.0 L290.0 430.0 L300.0 410.0 L306.0 400.0 L309.5 393.2 L312.5 397.0 L316.0 402.0 L322.0 404.0 L326.5 399.0 L327.3 392.0 L328.3 390.3 L330.0 392.0 L333.6 397.0 L340.0 410.0 L350.0 430.0 L365.0 460.0 L380.0 490.0 L396.1 522.2 L398.5 530.6 L400.9 540.3 L403.3 549.9 L405.7 559.5 L407.5 570.3 L409.3 570.3 L411.1 576.4 L412.9 578.2 L414.7 580.0 L416.5 588.4 L417.7 582.4 L418.9 581.8 L420.1 584.2 L421.6 587.2 L422.6 564.3 L423.8 566.7 L425.0 558.3 L426.8 559.5 L428.0 561.3 L429.8 563.7 L431.6 560.7 L433.4 563.1 L435.2 561.3 L437.0 559.5 L438.2 558.3 L440.0 546.3 L441.8 548.7 L443.6 547.5 L444.8 542.7 L446.0 535.5 L447.2 530.6 L449.0 527.6 L451.4 525.2 L453.8 523.4 L456.2 522.8 L459.9 525.8 L461.1 524.0 L463.5 523.4 L465.3 526.4 L467.1 528.8 L468.9 530.0 L470.7 529.4 L471.9 533.0 L473.7 529.4 L475.5 533.0 L477.3 534.2 L479.1 530.6 L480.9 527.0 L481.5 523.4 L485.1 523.4 L488.7 523.4 L492.3 522.8 L494.7 522.2 L503.2 518.6 L512.2 522.2 L514.0 528.2 L515.8 534.2 L517.6 540.3 L518.9 541.0 L522.3 546.7 L524.5 554.5 L526.8 561.3 L528.6 568.0 L530.1 563.5 L532.4 564.7 L534.6 555.7 L536.9 557.9 L539.1 554.5 L542.5 553.4 L545.9 556.8 L548.1 552.3 L550.4 546.7 L553.8 545.5 L556.0 547.8 L559.4 544.4 L561.7 541.0 L563.9 543.3 L567.3 538.8 L570.0 533.1 L572.9 539.9 L575.2 538.8 L577.4 543.3 L579.7 537.6 L581.9 536.5 L583.0 501.6 L586.4 496.0 L588.7 493.8 L589.8 478.0 L590.9 466.8 L593.2 457.8 L595.4 447.6 L598.8 444.3 L599.9 433.0 L601.0 424.0 L604.4 408.0 L610.0 392.3 L614.1 381.0 L615.0 363.0 L616.8 345.0 L618.6 322.5 L620.2 297.8 L621.8 282.0 L623.5 264.0 L625.8 248.2 L627.6 237.0 L629.2 216.5 L631.4 200.8 L633.7 185.0 L634.4 172.7 L636.6 162.5 L639.3 159.2 L641.5 149.0 L643.8 146.8 L646.5 136.7 L649.4 134.4 L651.7 128.8 L655.1 126.5 L657.3 119.8 L659.6 104.0 L661.8 101.8 L664.1 105.1 L666.3 99.5 L668.6 97.3 L671.9 96.1 L674.2 100.6 L677.6 93.9 L679.8 95.0 L683.2 96.1 L685.4 98.4 L687.7 104.0 L691.1 107.4 L693.3 117.5 L695.6 128.8 L698.9 134.4 L702.3 144.5 L705.7 160.3 L709.1 180.5 L711.3 196.3 L713.1 207.5 L715.4 212.0 L718.1 237.0 L720.3 266.3 L723.7 304.5 L727.1 345.0 L728.3 360.0 L730.1 372.0 L732.5 402.1 L734.9 429.8 L737.3 451.5 L737.9 460.0 L740.3 474.4 L742.7 491.3 L745.1 508.1 L746.0 519.0 L748.1 527.4 L750.5 534.6 L752.0 543.0 L753.2 550.3 L754.8 535.2 L756.6 544.2 L759.0 552.7 L760.8 560.0 L764.9 572.5 L768.3 579.3 L770.5 588.3 L772.8 586.0 L775.0 592.8 L778.4 599.5 L781.8 604.0 L785.1 609.7 L785.1 611.0 L788.5 620.0 L791.9 627.9 L795.3 636.9 L798.6 642.5 L802.0 647.0 L804.7 652.6 L806.5 642.5 L808.3 647.0 L810.6 648.1 L812.8 651.5 L815.1 631.3 L817.8 630.1 L820.0 627.9 L821.8 625.6 L823.4 618.9 L825.6 623.4 L827.9 629.0 L829.0 613.2 L831.3 609.7 L833.5 604.0 L836.9 599.5 L838.5 604.0 L840.3 599.5 L842.5 604.0 L844.8 609.7 L847.0 614.4 L849.3 617.8 L851.1 613.2 L853.3 616.6 L856.0 620.0 L858.3 618.9 L860.5 624.5 L862.3 626.8 L865.0 623.4 L867.7 617.8 L869.5 616.0 L872.9 615.5 L876.3 613.2 L879.7 617.8 L883.0 620.5 L886.4 618.2 L889.8 618.9 L892.0 620.0 L895.4 614.4 L897.0 611.0 L898.3 609.0 L899.9 613.2 L903.3 616.6 L906.7 614.4 L910.0 613.2 L912.3 620.0 L915.7 623.4 L917.9 630.1 L920.2 625.6 L922.4 631.3 L925.4 639.1 L928.0 640.3 L929.9 648.1 L931.0 659.4 L932.5 640.3 L934.8 634.6 L937.5 633.5 L940.4 640.3 L942.7 642.5 L944.9 643.6 L946.5 639.1 L948.8 643.6 L951.7 636.9 L953.3 627.9 L954.6 611.0 L955.1 595.0 L957.3 589.4 L959.6 587.2 L961.8 590.5 L964.1 587.2 L965.9 589.4 L967.4 584.9 L969.7 586.0 L971.3 582.7 L972.6 586.0 L973.7 595.0 L974.9 581.5 L975.8 563.5 L977.6 559.0 L979.8 560.2 L982.1 564.7 L985.4 565.8 L987.7 571.4 L990.0 574.1 L992.4 578.3 L994.8 578.9 L997.2 583.7 L1000.2 587.3 L1002.0 596.9 L1003.8 600.5 L1005.6 598.7 L1008.0 605.4 L1010.5 606.6 L1012.3 607.8 L1014.7 609.6 L1017.1 616.2 L1019.5 622.2 L1021.9 623.4 L1023.7 624.6 L1026.1 628.2 L1027.9 628.8 L1029.1 632.4 L1030.7 621.0 L1032.7 625.8 L1034.5 629.4 L1036.9 629.4 L1038.7 635.4 L1040.5 638.5 L1042.3 642.1 L1043.5 640.2 L1044.8 622.2 L1046.0 607.8 L1047.8 599.3 L1048.7 586.1 L1050.2 584.3 L1052.0 582.5 L1053.2 568.6 L1054.4 571.7 L1056.2 576.5 L1058.6 578.3 L1060.4 579.5 L1062.2 578.9 L1064.0 584.3 L1065.2 576.5 L1067.0 572.9 L1069.4 578.3 L1071.8 584.9 L1074.2 590.3 L1076.0 591.5 L1077.8 596.9 L1079.7 592.7 L1081.5 596.3 L1083.9 598.1 L1085.7 595.7 L1087.5 594.5 L1089.3 595.1 L1090.8 596.2 L1093.0 593.9 L1096.4 596.2 L1099.8 599.5 L1103.1 602.9 L1106.5 606.3 L1109.9 605.2 L1112.8 597.3 L1115.5 596.2 L1117.8 588.3 L1119.6 586.0 L1121.8 589.4 L1124.5 591.7 L1127.9 589.4 L1131.3 591.7 L1134.0 596.2 L1136.2 591.7 L1138.0 596.2 L1139.8 589.4 L1141.4 595.0 L1143.7 604.0 L1145.2 611.0 L1148.2 622.2 L1152.7 635.8 L1157.2 648.1 L1159.4 649.3 L1162.8 657.1 L1164.6 652.6 L1166.2 650.4 L1169.1 654.9 L1171.8 652.6 L1174.0 651.5 L1176.3 651.5 L1178.5 645.9 L1181.9 644.8 L1184.2 640.3 L1187.5 639.1 L1190.2 636.9 L1192.0 635.8 L1195.4 639.1 L1198.8 638.0 L1201.5 640.3 L1204.4 644.8 L1207.8 651.5 L1211.2 658.3 L1214.5 662.8 L1217.9 661.6 L1221.3 663.9 L1224.0 668.4 L1226.9 674.0 L1229.2 679.6 L1232.5 687.5 L1235.9 692.0 L1238.8 690.9 L1241.5 697.6 L1243.8 701.0 L1247.2 699.9 L1250.6 701.0 L1253.9 705.5 L1257.3 707.8 L1259.1 708.9 L1260.7 702.1 L1262.9 701.0 L1265.2 699.9 L1267.4 705.5" stroke="#fb0351" stroke-width="2.6"/>
</g>
<circle cx="745.9" cy="236.5" r="12.4" fill="#1a3a78" fill-opacity="0.28"/>
<circle cx="745.9" cy="236.5" r="4.5" fill="#24406e" stroke="#fff" stroke-width="1.1"/>
<circle cx="745.8" cy="409.9" r="12" fill="#2246fa" fill-opacity="0.25"/>
<path d="M745.8 404.2L751.5 409.9L745.8 415.6L740.1 409.9Z" fill="#2246fa" stroke="#fff" stroke-width="1.1"/>
<circle cx="746.1" cy="519.5" r="12.5" fill="#fb0351" fill-opacity="0.25"/>
<rect x="741.1" y="514.5" width="10" height="10" fill="#fb0351" stroke="#fff" stroke-width="1.2"/>
<path d="M736.7 773V500" stroke="#fdf48c" stroke-width="3.2" fill="none"/>
<path d="M736.7 487.9L744.6 503.1H728.8Z" fill="#fdf48c"/>
<path d="M62.2 54.5V773" stroke="#fb0351" stroke-width="2.4" fill="none"/>
<path d="M133.5 54.5V773" stroke="#000" stroke-width="2.6" fill="none"/>
<path d="M1276.75 54.5V773" stroke="#2246fa" stroke-width="2.6" fill="none"/>
<text x="50.669000000000004" y="231.2" text-anchor="end" font-family="'Liberation Sans', Arial, sans-serif" font-size="14" font-weight="normal" fill="#333333" letter-spacing="0.569">4.4M</text>
<text x="50.669000000000004" y="411" text-anchor="end" font-family="'Liberation Sans', Arial, sans-serif" font-size="14" font-weight="normal" fill="#333333" letter-spacing="0.569">3.6M</text>
<text x="50.669000000000004" y="590.8" text-anchor="end" font-family="'Liberation Sans', Arial, sans-serif" font-size="14" font-weight="normal" fill="#333333" letter-spacing="0.569">2.8M</text>
<text x="50.673" y="770.3" text-anchor="end" font-family="'Liberation Sans', Arial, sans-serif" font-size="14" font-weight="normal" fill="#333333" letter-spacing="0.573">2M</text>
<text x="121.99300000000001" y="185.8" text-anchor="end" font-family="'Liberation Sans', Arial, sans-serif" font-size="14" font-weight="normal" fill="#333333" letter-spacing="0.593">40K</text>
<text x="121.226" y="456.2" text-anchor="end" font-family="'Liberation Sans', Arial, sans-serif" font-size="14" font-weight="normal" fill="#333333" letter-spacing="-0.174">10K</text>
<text x="121.68700000000001" y="555.7" text-anchor="end" font-family="'Liberation Sans', Arial, sans-serif" font-size="14" font-weight="normal" fill="#333333" letter-spacing="0.287">6K</text>
<text x="121.537" y="770.3" text-anchor="end" font-family="'Liberation Sans', Arial, sans-serif" font-size="14" font-weight="normal" fill="#333333" letter-spacing="0.137">2K</text>
<text x="1288.6" y="231.2" text-anchor="start" font-family="'Liberation Sans', Arial, sans-serif" font-size="14" font-weight="normal" fill="#333333" letter-spacing="0.296">14.4M</text>
<text x="1288.6" y="411" text-anchor="start" font-family="'Liberation Sans', Arial, sans-serif" font-size="14" font-weight="normal" fill="#333333" letter-spacing="0.216">12.8M</text>
<text x="1288.6" y="590.8" text-anchor="start" font-family="'Liberation Sans', Arial, sans-serif" font-size="14" font-weight="normal" fill="#333333" letter-spacing="-0.055">11.2M</text>
<text x="1288.6" y="770.3" text-anchor="start" font-family="'Liberation Sans', Arial, sans-serif" font-size="14" font-weight="normal" fill="#333333" letter-spacing="0.519">9.6M</text>
<text x="174.6565" y="807.8" text-anchor="middle" font-family="'Liberation Sans', Arial, sans-serif" font-size="15" font-weight="normal" fill="#3f4555" letter-spacing="0.313">Jan '19</text>
<text x="285.865" y="807.8" text-anchor="middle" font-family="'Liberation Sans', Arial, sans-serif" font-size="15" font-weight="normal" fill="#3f4555" letter-spacing="0.33">Jul '19</text>
<text x="399.95649999999995" y="807.8" text-anchor="middle" font-family="'Liberation Sans', Arial, sans-serif" font-size="15" font-weight="normal" fill="#3f4555" letter-spacing="0.313">Jan '20</text>
<text x="512.765" y="807.8" text-anchor="middle" font-family="'Liberation Sans', Arial, sans-serif" font-size="15" font-weight="normal" fill="#3f4555" letter-spacing="0.33">Jul '20</text>
<text x="625.2565000000001" y="807.8" text-anchor="middle" font-family="'Liberation Sans', Arial, sans-serif" font-size="15" font-weight="normal" fill="#3f4555" letter-spacing="0.313">Jan '21</text>
<text x="737.9649999999999" y="807.8" text-anchor="middle" font-family="'Liberation Sans', Arial, sans-serif" font-size="15" font-weight="normal" fill="#3f4555" letter-spacing="0.33">Jul '21</text>
<text x="852.0565" y="807.8" text-anchor="middle" font-family="'Liberation Sans', Arial, sans-serif" font-size="15" font-weight="normal" fill="#3f4555" letter-spacing="0.313">Jan '22</text>
<text x="963.0649999999999" y="807.8" text-anchor="middle" font-family="'Liberation Sans', Arial, sans-serif" font-size="15" font-weight="normal" fill="#3f4555" letter-spacing="0.33">Jul '22</text>
<text x="1077.1565" y="807.8" text-anchor="middle" font-family="'Liberation Sans', Arial, sans-serif" font-size="15" font-weight="normal" fill="#3f4555" letter-spacing="0.313">Jan '23</text>
<text x="1188.765" y="807.8" text-anchor="middle" font-family="'Liberation Sans', Arial, sans-serif" font-size="15" font-weight="normal" fill="#3f4555" letter-spacing="0.33">Jul '23</text>
</svg>
<span class="dot" style="left:29.3px;top:16.3px;width:9.8px;height:9.8px;background:#000000"></span><span class="lg" style="left:44.3px;letter-spacing:0.123px">BTC: Price [USD]</span>
<span class="dot" style="left:166.3px;top:16.3px;width:9.8px;height:9.8px;background:#ffd6d6"></span><span class="lg" style="left:181.6px;letter-spacing:0.355px">Short-Term Holders</span>
<span class="dot" style="left:317.2px;top:16.3px;width:9.8px;height:9.8px;background:#d6e4fd"></span><span class="lg" style="left:332.6px;letter-spacing:0.327px">Long-Term Holders</span>
<span class="dot" style="left:466.5px;top:16.3px;width:9.8px;height:9.8px;background:#2246fa"></span><span class="lg" style="left:482.1px;letter-spacing:0.257px">BTC: Long-Term Holder Supply [BTC]</span>
<span class="dot" style="left:721.6px;top:16.3px;width:9.8px;height:9.8px;background:#fb0351"></span><span class="lg" style="left:737.2px;letter-spacing:0.259px">BTC: Short-Term Holder Supply [BTC]</span>
<div class="btn"><span style="letter-spacing:0.425px">Reset zoom</span></div>
<svg style="position:absolute;left:1299px;top:17px" width="21" height="18" viewBox="0 0 21 18"><path d="M5.9 5.3L7.5 2.95H12.7L14.3 5.3H16.9Q18.4 5.3 18.4 6.8V14.4Q18.4 15.9 16.9 15.9H3.3Q1.8 15.9 1.8 14.4V6.8Q1.8 5.3 3.3 5.3Z" fill="none" stroke="#333" stroke-width="1.45" stroke-linejoin="round"/><circle cx="10.1" cy="10.4" r="2.95" fill="none" stroke="#333" stroke-width="1.45"/></svg>
<div class="tip"><div class="hd">Friday, Jul 16 2021 UTC</div>
<span class="dot" style="top:31.2px;background:#000000"></span><div class="row" style="top:28.4px"><span style="letter-spacing:0.428px">BTC: Price [USD]: </span><b style="letter-spacing:0.902px">$31,426.90</b></div>
<span class="dot" style="top:48.6px;background:#ffd6d6"></span><div class="row" style="top:45.8px"><span style="letter-spacing:0.687px">Short-Term Holders: </span><b style="letter-spacing:0.703px">0</b></div>
<span class="dot" style="top:66.1px;background:#d6e4fd"></span><div class="row" style="top:63.3px"><span style="letter-spacing:0.693px">Long-Term Holders: </span><b style="letter-spacing:0.927px">31,426.8994787</b></div>
<span class="dot" style="top:83.5px;background:#2246fa"></span><div class="row" style="top:80.7px"><span style="letter-spacing:0.606px">BTC: Long-Term Holder Supply [BTC]: </span><b style="letter-spacing:0.968px">12,834,369.3706079</b></div>
<span class="dot" style="top:101.0px;background:#fb0351"></span><div class="row" style="top:98.2px"><span style="letter-spacing:0.619px">BTC: Short-Term Holder Supply [BTC]: </span><b style="letter-spacing:0.613px">3,129,313.62671928</b></div>
</div>
</body></html>
